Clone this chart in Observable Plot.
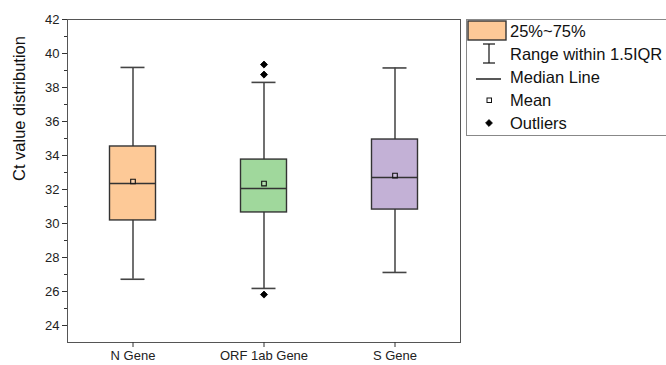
<!DOCTYPE html>
<html>
<head>
<meta charset="utf-8">
<script src="https://cdn.jsdelivr.net/npm/d3@7"></script>
<script src="https://cdn.jsdelivr.net/npm/@observablehq/plot@0.6"></script>
<style>
  html, body { margin: 0; padding: 0; background: #fff; overflow: hidden; }
  #wrap { position: relative; width: 666px; height: 365px; }
  #legend { position: absolute; left: 466px; top: 19px; width: 205px; height: 117px;
            border: 1px solid #888; border-right: none; box-sizing: border-box; background: #fff; }
</style>
</head>
<body>
<div id="wrap"><div id="legend"></div></div>
<script>
const genes = ["N Gene", "ORF 1ab Gene", "S Gene"];
const q1 = [30.18, 30.65, 30.82];
const median = [32.35, 32.06, 32.71];
const q3 = [34.53, 33.76, 34.94];
const mean = [32.47, 32.35, 32.82];
const whiskerLow = [26.72, 26.18, 27.12];
const whiskerHigh = [39.18, 38.30, 39.15];
const outlierGene = ["ORF 1ab Gene", "ORF 1ab Gene", "ORF 1ab Gene"];
const outlierValue = [39.35, 38.76, 25.82];
const boxColors = ["#FDC997", "#A0D89C", "#C3B1D6"];
const yMajorTicks = [24, 26, 28, 30, 32, 34, 36, 38, 40, 42];
const yMinorTicks = [25, 27, 29, 31, 33, 35, 37, 39, 41];
const legendLabels = ["25%~75%", "Range within 1.5IQR", "Median Line", "Mean", "Outliers"];
const yLabel = "Ct value distribution";

const rows = genes.map((g, i) => ({gene: g, q1: q1[i], median: median[i], q3: q3[i],
  mean: mean[i], lo: whiskerLow[i], hi: whiskerHigh[i]}));
const outliers = outlierGene.map((g, i) => ({gene: g, value: outlierValue[i]}));

const boxInset = 42.5;
const capInset = 53.5;

const chart = Plot.plot({
  width: 666,
  height: 365,
  marginLeft: 67,
  marginRight: 206,
  marginTop: 19,
  marginBottom: 23,
  style: {fontFamily: "'Liberation Sans', Arial, sans-serif", fontSize: "13px", color: "#222", background: "transparent"},
  x: {domain: genes, padding: 0, label: null},
  y: {domain: [23, 42], label: null},
  color: {domain: genes, range: boxColors},
  marks: [
    Plot.ruleX(rows, {x: "gene", y1: "lo", y2: "hi", stroke: "#111", strokeWidth: 1.2}),
    Plot.tickY(rows, {x: "gene", y: "lo", insetLeft: capInset, insetRight: capInset, stroke: "#444", strokeWidth: 1.6}),
    Plot.tickY(rows, {x: "gene", y: "hi", insetLeft: capInset, insetRight: capInset, stroke: "#444", strokeWidth: 1.6}),
    Plot.barY(rows, {x: "gene", y1: "q1", y2: "q3", fill: "gene", insetLeft: boxInset, insetRight: boxInset, stroke: "#333", strokeWidth: 1.4}),
    Plot.tickY(rows, {x: "gene", y: "median", insetLeft: boxInset, insetRight: boxInset, stroke: "#333", strokeWidth: 1.6}),
    Plot.dot(rows, {x: "gene", y: "mean", symbol: "square", r: 2.6, fill: "#fff", fillOpacity: 0.2, stroke: "#111", strokeWidth: 1.1}),
    Plot.dot(outliers, {x: "gene", y: "value", symbol: "diamond2", r: 3.2, fill: "#000", stroke: "#000", strokeWidth: 0.8}),
    Plot.frame({stroke: "#555", strokeWidth: 1}),
    Plot.axisY({ticks: yMajorTicks, tickSize: 5, tickPadding: 3, fontSize: 13, label: null, stroke: "#333"}),
    Plot.axisY({ticks: yMinorTicks, tickSize: 3, fill: "none", label: null, stroke: "#333"}),
    Plot.axisX({tickSize: 5, tickPadding: 3, fontSize: 13, label: null, stroke: "#333"}),
    Plot.ruleX([0], {frameAnchor: "left", stroke: "#222", strokeWidth: 1.5}),
    Plot.text([yLabel], {frameAnchor: "left", dx: -48, rotate: -90, fontSize: 16.5, fill: "#111"})
  ]
});
document.getElementById("wrap").insertBefore(chart, document.getElementById("legend"));

// Legend
const svg = d3.select("#legend").append("svg").attr("width", 205).attr("height", 117)
  .style("display", "block").style("font-family", "'Liberation Sans', Arial, sans-serif");
svg.append("rect").attr("x", 1).attr("y", 1).attr("width", 38).attr("height", 19)
  .attr("fill", boxColors[0]).attr("stroke", "#333").attr("stroke-width", 1.4);
// range symbol
svg.append("line").attr("x1", 22).attr("x2", 22).attr("y1", 24).attr("y2", 43).attr("stroke", "#111").attr("stroke-width", 1.2);
svg.append("line").attr("x1", 16).attr("x2", 28).attr("y1", 24).attr("y2", 24).attr("stroke", "#111").attr("stroke-width", 1.2);
svg.append("line").attr("x1", 16).attr("x2", 28).attr("y1", 43).attr("y2", 43).attr("stroke", "#111").attr("stroke-width", 1.2);
// median line
svg.append("line").attr("x1", 9).attr("x2", 34).attr("y1", 59).attr("y2", 59).attr("stroke", "#111").attr("stroke-width", 1.4);
// mean square
svg.append("rect").attr("x", 20).attr("y", 78).attr("width", 4.5).attr("height", 4.5).attr("fill", "#fff").attr("stroke", "#111").attr("stroke-width", 1);
// outlier diamond
svg.append("path").attr("d", d3.symbol(d3.symbolDiamond2, 30)()).attr("transform", "translate(22,103)").attr("fill", "#000").attr("stroke", "#000").attr("stroke-width", 0.8);
svg.selectAll("text.lab").data(legendLabels).join("text").attr("class", "lab")
  .attr("x", 43).attr("y", (d, i) => 17 + i * 23).attr("font-size", 16.5).attr("fill", "#111").text(d => d);
</script>
</body>
</html>
